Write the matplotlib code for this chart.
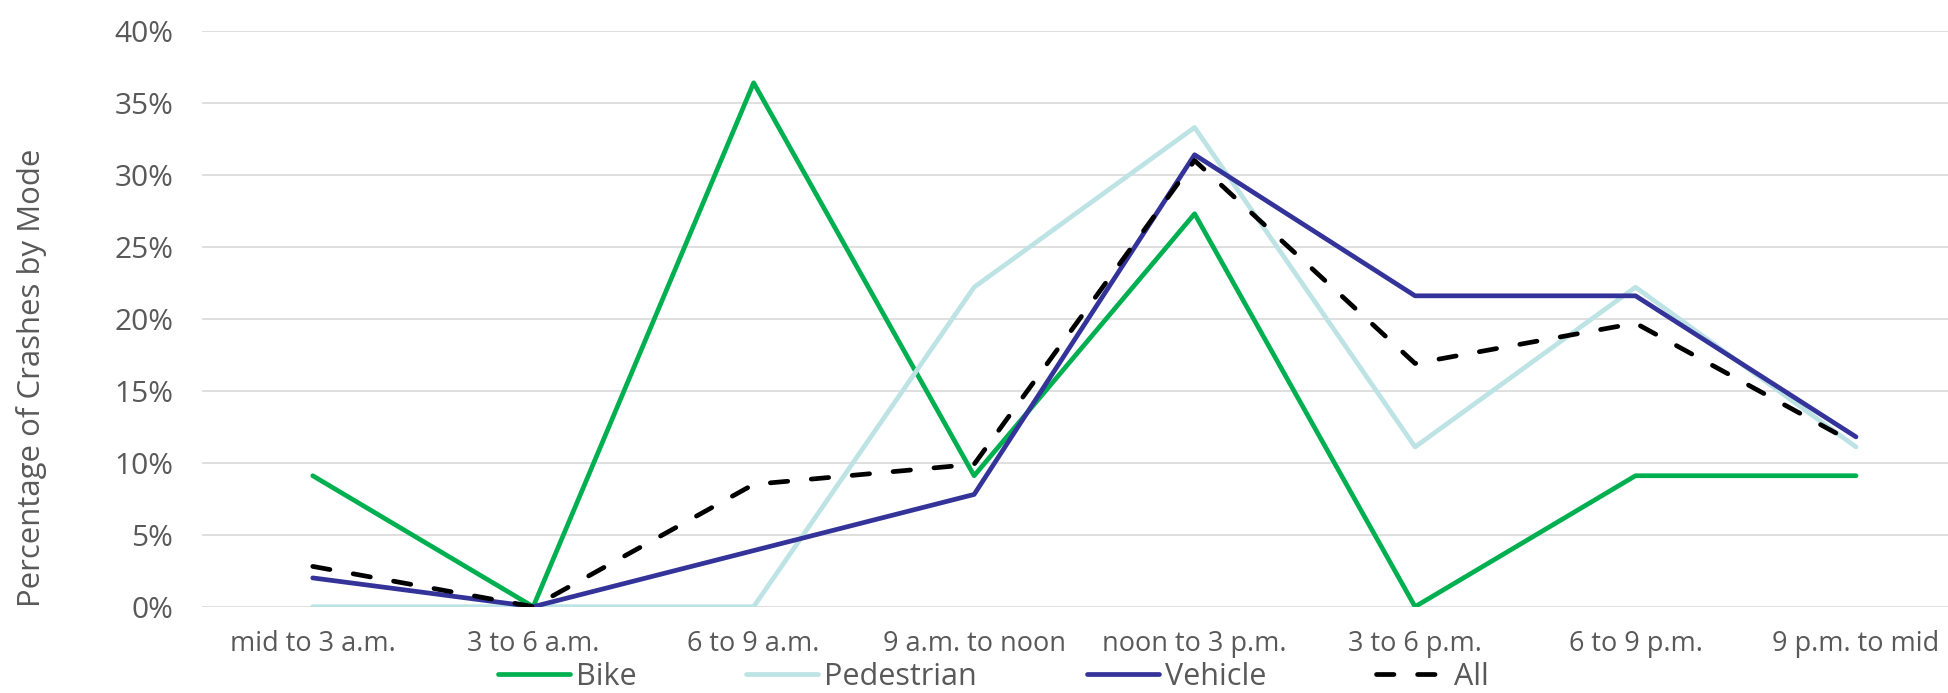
import matplotlib
matplotlib.use("Agg")
import matplotlib.pyplot as plt
from matplotlib.ticker import FuncFormatter, MultipleLocator

plt.rcParams['font.family'] = ['Open Sans', 'DejaVu Sans']

# Share of crashes (%) in each time-of-day window, by mode
periods = ["mid to 3 a.m.", "3 to 6 a.m.", "6 to 9 a.m.", "9 a.m. to noon",
           "noon to 3 p.m.", "3 to 6 p.m.", "6 to 9 p.m.", "9 p.m. to mid"]
bike = [9.1, 0.0, 36.4, 9.1, 27.3, 0.0, 9.1, 9.1]
pedestrian = [0.0, 0.0, 0.0, 22.2, 33.3, 11.1, 22.2, 11.1]
vehicle = [2.0, 0.0, 3.9, 7.8, 31.4, 21.6, 21.6, 11.8]
all_modes = [2.8, 0.0, 8.5, 9.9, 31.0, 16.9, 19.7, 11.3]

text_color = "#595959"
W, H = 1949, 693
fig = plt.figure(figsize=(W / 100, H / 100), dpi=100)
ax = fig.add_axes([202.5 / W, 1 - 606.7 / H, 1 - 202.5 / W, (606.7 - 31) / H])

x = list(range(len(periods)))
lw = 3.4
common = dict(linewidth=lw, solid_capstyle="round", solid_joinstyle="round")
ax.plot(x, bike, color="#00B050", label="Bike", **common)
ax.plot(x, pedestrian, color="#BDE3E5", label="Pedestrian", **common)
ax.plot(x, vehicle, color="#333399", label="Vehicle", **common)
ax.plot(x, all_modes, color="black", label="All", linewidth=lw,
        linestyle=(0, (3.7, 5.0)), dash_capstyle="round", dash_joinstyle="round")

ax.set_ylim(0, 40)
ax.set_xlim(-0.5, 7 + (W - 1856) / 220.47)
ax.yaxis.set_major_locator(MultipleLocator(5))
ax.yaxis.set_major_formatter(FuncFormatter(lambda v, _: f"{v:.0f}%"))
ax.set_xticks(x)
ax.set_xticklabels(periods)

ax.grid(axis="y", color="#D9D9D9", linewidth=1.2)
ax.set_axisbelow(True)
for s in ax.spines.values():
    s.set_visible(False)
ax.tick_params(axis="both", length=0, colors=text_color)
ax.tick_params(axis="y", labelsize=21.5, pad=21)
ax.tick_params(axis="x", labelsize=19.5, pad=17)

fig.text(32 / W, 1 - 378 / H, "Percentage of Crashes by Mode", rotation=90,
         ha="center", va="center", fontsize=22.4, color=text_color)

leg = fig.legend(loc="center", bbox_to_anchor=(993.5 / W, 1 - 677 / H), ncol=4,
                 frameon=False, fontsize=22, handlelength=2.35, handletextpad=0.2,
                 columnspacing=3.6, labelcolor=text_color, borderpad=0)

fig.savefig("out.png", dpi=100)
